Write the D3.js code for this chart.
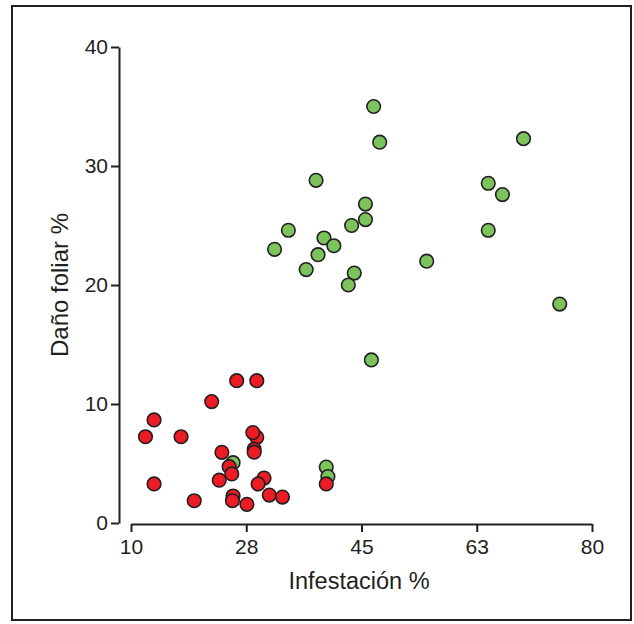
<!DOCTYPE html>
<html>
<head>
<meta charset="utf-8">
<script src="https://cdn.jsdelivr.net/npm/d3@7.9.0/dist/d3.min.js"></script>
<style>
  html, body { margin: 0; padding: 0; background: #fff; }
  text { font-family: "Liberation Sans", Arial, sans-serif; fill: #231f20; }
</style>
</head>
<body>
<svg id="chart" width="634" height="624"></svg>
<script>
// x ticks are evenly spaced (10, 27.5, 45, 62.5, 80) but labelled rounded
const xTicks = [10, 27.5, 45, 62.5, 80];
const xTickLabels = ['10', '28', '45', '63', '80'];
const yTicks = [0, 10, 20, 30, 40];

// green group: [infestación, daño foliar]
const greenX = [46.85, 47.76, 69.6, 38.1, 64.25, 66.4, 45.6, 45.6, 43.5, 33.9, 64.25, 39.3, 40.8, 31.8,
                38.4, 54.9, 36.6, 43.9, 43.0, 75.1, 46.5, 25.5, 39.65, 39.9];
const greenY = [35.0, 32.0, 32.3, 28.8, 28.55, 27.6, 26.8, 25.5, 25.0, 24.6, 24.6, 23.95, 23.3, 23.0,
                22.55, 22.0, 21.3, 21.0, 20.0, 18.4, 13.7, 5.07, 4.7, 3.9];

// red group
const redX = [26.05, 29.1, 22.25, 13.5, 12.2, 17.6, 29.1, 28.5, 23.8, 28.7, 28.7, 24.9, 25.3, 23.4,
              30.2, 29.3, 13.5, 19.6, 25.5, 25.4, 27.6, 31.0, 33.0, 39.65];
const redY = [11.96, 11.96, 10.2, 8.66, 7.25, 7.25, 7.2, 7.6, 5.94, 6.2, 5.95, 4.73, 4.12, 3.6,
              3.78, 3.28, 3.28, 1.87, 2.27, 1.87, 1.57, 2.35, 2.18, 3.28];

const svg = d3.select('#chart');

// outer frame
svg.append('rect')
  .attr('x', 12).attr('y', 6).attr('width', 619).attr('height', 614)
  .attr('fill', 'none').attr('stroke', '#231f20').attr('stroke-width', 2);

const x = d3.scaleLinear().domain([10, 80]).range([131, 592]);
const y = d3.scaleLinear().domain([0, 40]).range([523, 47]);

// x axis (detached from y axis, R style)
const xAxis = svg.append('g')
  .attr('transform', 'translate(0,524)')
  .call(d3.axisBottom(x).tickValues(xTicks).tickFormat(d => xTickLabels[xTicks.indexOf(d)])
    .tickSize(8).tickSizeOuter(0).tickPadding(7));
xAxis.select('.domain').attr('stroke', '#231f20').attr('stroke-width', 2);
xAxis.selectAll('.tick line').attr('stroke', '#231f20').attr('stroke-width', 2);
xAxis.selectAll('.tick text').attr('font-size', '21px').attr('fill', '#231f20')
  .attr('font-family', '"Liberation Sans", Arial, sans-serif');

const yAxis = svg.append('g')
  .attr('transform', 'translate(119,0)')
  .call(d3.axisLeft(y).tickValues(yTicks).tickSize(8).tickSizeOuter(0).tickPadding(3));
yAxis.select('.domain').attr('stroke', '#231f20').attr('stroke-width', 2);
yAxis.selectAll('.tick line').attr('stroke', '#231f20').attr('stroke-width', 2);
yAxis.selectAll('.tick text').attr('font-size', '21px').attr('fill', '#231f20')
  .attr('font-family', '"Liberation Sans", Arial, sans-serif');

// axis titles
svg.append('text')
  .attr('x', 359).attr('y', 589)
  .attr('text-anchor', 'middle').attr('font-size', '23.5px')
  .text('Infestación %');
svg.append('text')
  .attr('transform', 'translate(68,285) rotate(-90)')
  .attr('text-anchor', 'middle').attr('font-size', '24px')
  .text('Daño foliar %');

// points: green first, red on top
const green = greenX.map((v, i) => ({ x: v, y: greenY[i] }));
const red = redX.map((v, i) => ({ x: v, y: redY[i] }));

svg.append('g').selectAll('circle').data(green).join('circle')
  .attr('cx', d => x(d.x)).attr('cy', d => y(d.y)).attr('r', 6.8)
  .attr('fill', '#7cc35c').attr('stroke', '#231f20').attr('stroke-width', 1.6);

svg.append('g').selectAll('circle').data(red).join('circle')
  .attr('cx', d => x(d.x)).attr('cy', d => y(d.y)).attr('r', 6.8)
  .attr('fill', '#ed1c24').attr('stroke', '#231f20').attr('stroke-width', 1.6);
</script>
</body>
</html>
